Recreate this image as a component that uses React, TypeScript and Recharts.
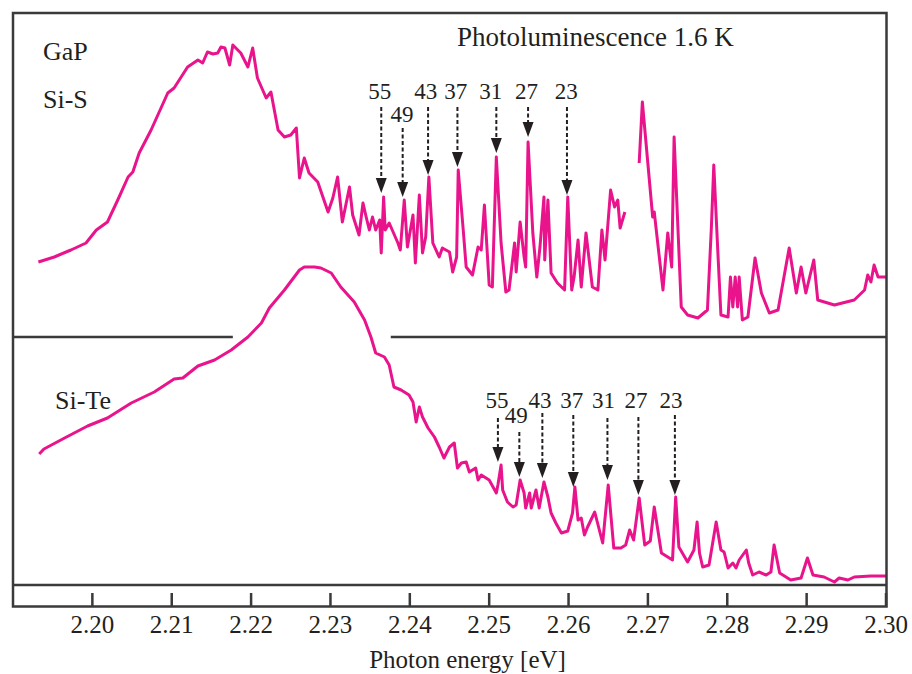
import { ComposedChart, Line, ReferenceLine, Scatter, XAxis, YAxis } from "recharts";

if (typeof document !== "undefined") document.body.style.margin = "0";

// photon energy [eV], PL intensity (arb. units, Si-S trace offset above Si-Te)
const siSSpectrum: [number, number | null][] = [
  [2.1932, 323], [2.1952, 328], [2.1973, 335], [2.1992, 342], [2.2005, 355], [2.2019, 363],
  [2.2032, 385], [2.2045, 408], [2.2051, 413], [2.2059, 432], [2.2074, 455], [2.2095, 492],
  [2.2103, 497], [2.212, 518], [2.2133, 525], [2.2139, 522], [2.2145, 533], [2.2152, 531],
  [2.2158, 532], [2.2162, 538], [2.2167, 537], [2.2173, 520], [2.2177, 540], [2.2187, 532],
  [2.2196, 518], [2.2202, 537], [2.2208, 507], [2.2219, 487], [2.2225, 493], [2.2234, 455],
  [2.2242, 448], [2.225, 450], [2.2257, 457], [2.2261, 407], [2.2267, 427], [2.2273, 412],
  [2.2284, 403], [2.2297, 373], [2.2303, 387], [2.2309, 408], [2.2315, 363], [2.2324, 398],
  [2.2328, 370], [2.2336, 350], [2.2341, 382], [2.2345, 368], [2.2349, 355], [2.2353, 368],
  [2.2357, 355], [2.2362, 365], [2.2364, 332], [2.2367, 388], [2.2369, 355], [2.2374, 362],
  [2.2385, 342], [2.2388, 335], [2.2393, 385], [2.2397, 338], [2.2404, 370], [2.2407, 322],
  [2.2412, 390], [2.2416, 332], [2.242, 348], [2.2424, 408], [2.2429, 342], [2.2437, 328],
  [2.2441, 337], [2.245, 333], [2.2454, 313], [2.2459, 328], [2.2461, 415], [2.2467, 358],
  [2.2471, 318], [2.2479, 310], [2.2486, 338], [2.249, 335], [2.2494, 380], [2.25, 300],
  [2.2504, 298], [2.2509, 428], [2.2515, 342], [2.2521, 293], [2.2525, 295], [2.2532, 342],
  [2.2534, 313], [2.2539, 363], [2.2544, 328], [2.2546, 318], [2.2549, 443], [2.2555, 352],
  [2.256, 308], [2.2564, 338], [2.2569, 388], [2.257, 325], [2.2574, 385], [2.2578, 312],
  [2.2586, 302], [2.2595, 295], [2.2599, 388], [2.2604, 295], [2.2607, 308], [2.2612, 345],
  [2.2616, 298], [2.2622, 352], [2.263, 298], [2.2637, 295], [2.2642, 355], [2.2646, 325],
  [2.2653, 395], [2.2658, 378], [2.2662, 385], [2.2665, 357], [2.2671, 373], [2.268, null],
  [2.2689, 422], [2.2693, 483], [2.2706, 368], [2.2708, 373], [2.2719, 295], [2.2725, 352],
  [2.273, 318], [2.2733, 448], [2.2742, 278], [2.275, 270], [2.2763, 267], [2.2775, 275],
  [2.278, 358], [2.2783, 420], [2.2788, 335], [2.2792, 270], [2.2801, 268], [2.2804, 308],
  [2.2807, 278], [2.281, 308], [2.2813, 278], [2.2815, 308], [2.2819, 265], [2.2826, 268],
  [2.2835, 327], [2.2843, 292], [2.2853, 272], [2.2864, 275], [2.2878, 337], [2.2887, 292],
  [2.2893, 318], [2.2899, 292], [2.2909, 325], [2.2914, 285], [2.2935, 280], [2.296, 285],
  [2.2973, 295], [2.2977, 310], [2.2981, 303], [2.2985, 320], [2.299, 308], [2.3, 308],
];

const siTeSpectrum: [number, number][] = [
  [2.1933, 131], [2.1939, 136], [2.1965, 147], [2.1994, 159], [2.2019, 167], [2.2049, 182],
  [2.2078, 193], [2.2103, 206], [2.2114, 207], [2.2133, 219], [2.2154, 225], [2.2175, 235],
  [2.2196, 248], [2.2213, 262], [2.2223, 277], [2.2242, 295], [2.2261, 315], [2.2267, 318],
  [2.228, 318], [2.2288, 317], [2.2301, 312], [2.2313, 298], [2.233, 283], [2.2343, 265],
  [2.2351, 248], [2.2357, 232], [2.2368, 228], [2.2374, 220], [2.238, 198], [2.2389, 195],
  [2.2399, 190], [2.2404, 183], [2.2408, 163], [2.2412, 178], [2.2416, 168], [2.2423, 157],
  [2.2431, 148], [2.2437, 138], [2.2443, 127], [2.245, 138], [2.2456, 142], [2.246, 117],
  [2.2465, 122], [2.2471, 123], [2.2475, 113], [2.2483, 117], [2.2486, 105], [2.249, 110],
  [2.25, 105], [2.2509, 92], [2.2511, 100], [2.2515, 120], [2.2517, 95], [2.2523, 83],
  [2.253, 78], [2.2534, 80], [2.2539, 105], [2.2544, 92], [2.2546, 77], [2.2551, 92],
  [2.2553, 77], [2.2559, 95], [2.2563, 77], [2.2569, 103], [2.2574, 88], [2.2578, 72],
  [2.2584, 62], [2.2591, 52], [2.2599, 54], [2.2605, 72], [2.2608, 98], [2.2612, 65],
  [2.2616, 67], [2.262, 50], [2.2624, 58], [2.2633, 73], [2.2643, 42], [2.265, 100],
  [2.2657, 37], [2.2666, 37], [2.2672, 40], [2.2677, 55], [2.2682, 45], [2.2689, 87],
  [2.2696, 40], [2.2703, 44], [2.2708, 78], [2.2717, 32], [2.2731, 25], [2.2735, 88],
  [2.2739, 38], [2.275, 23], [2.2758, 35], [2.2762, 63], [2.2765, 32], [2.2769, 18],
  [2.2777, 20], [2.2786, 63], [2.2792, 35], [2.2796, 33], [2.2801, 17], [2.2807, 22],
  [2.2811, 17], [2.2815, 25], [2.2824, 35], [2.2827, 22], [2.2832, 10], [2.284, 13],
  [2.2849, 10], [2.2855, 13], [2.2859, 40], [2.2866, 12], [2.288, 5], [2.2893, 7],
  [2.2901, 27], [2.2908, 10], [2.2922, 8], [2.2935, 3], [2.2941, 7], [2.2952, 5],
  [2.296, 8], [2.2981, 9], [2.3, 9],
];

const peakLabels = ["55", "49", "43", "37", "31", "27", "23"];

const siSArrowE = [2.2364, 2.2391, 2.2423, 2.246, 2.2509, 2.2549, 2.2598];
const siSArrowTip = [392, 388, 410, 418, 432, 448, 390];
const siSArrowTop = [478, 457, 478, 478, 478, 478, 478];
const siSLabelE = [2.2362, 2.239, 2.242, 2.2458, 2.2502, 2.2547, 2.2597];
const siSLabelV = [486, 463, 486, 486, 486, 486, 486];

const siTeArrowE = [2.2511, 2.2538, 2.2567, 2.2606, 2.2649, 2.2688, 2.2734];
const siTeArrowTip = [123, 108, 107, 98, 105, 90, 90];
const siTeArrowTop = [167, 153, 172, 170, 167, 168, 170];
const siTeLabelE = [2.251, 2.2534, 2.2564, 2.2604, 2.2644, 2.2685, 2.2729];
const siTeLabelV = [177, 162, 177, 177, 177, 177, 177];

const energyTicks = [2.2, 2.21, 2.22, 2.23, 2.24, 2.25, 2.26, 2.27, 2.28, 2.29, 2.3];

// panel divider, broken where the Si-Te band passes through
const dividerLevel = 248;
const dividerSpans: [number, number][] = [[2.19, 2.2177], [2.2376, 2.3]];

const PINK = "#e9148c";
const INK = "#231f20";
const FRAME = "#3a3a3a";
const SERIF = "'Liberation Serif', 'Times New Roman', serif";

const toPoints = (rows: [number, number | null][]) => rows.map(([e, v]) => ({ e, v }));
const arrowPoints = (es: number[], vs: number[]) => es.map((e, i) => ({ e, v: vs[i] }));
const labelPoints = (es: number[], vs: number[]) =>
  es.map((e, i) => ({ e, v: vs[i], label: peakLabels[i] }));

const ArrowHead = (p: any) => (
  <polygon
    points={`${p.cx - 5.5},${p.cy - 15} ${p.cx + 5.5},${p.cy - 15} ${p.cx},${p.cy}`}
    fill={INK}
  />
);

const PeakLabel = (p: any) => (
  <text x={p.cx} y={p.cy} textAnchor="middle" fontSize={23} fontFamily={SERIF} fill={INK}>
    {p.payload.label}
  </text>
);

const EnergyTick = ({ x, y, payload }: any) => (
  <g>
    <line x1={x} x2={x} y1={y + 22} y2={y + 8} stroke={FRAME} strokeWidth={2.5} />
    <text x={x} y={y + 48} textAnchor="middle" fontSize={25} fontFamily={SERIF} fill={INK}>
      {Number(payload.value).toFixed(2)}
    </text>
  </g>
);

export default function App() {
  const shafts = [
    ...siSArrowE.map((e, i) => [e, siSArrowTop[i], siSArrowTip[i]]),
    ...siTeArrowE.map((e, i) => [e, siTeArrowTop[i], siTeArrowTip[i]]),
  ];

  return (
    <div style={{ position: "relative", width: 912, height: 674, background: "#fff" }}>
      <ComposedChart
        width={912}
        height={674}
        margin={{ top: 12, right: 26, left: 13, bottom: 0 }}
      >
        <XAxis
          type="number"
          dataKey="e"
          domain={[2.19, 2.3]}
          ticks={energyTicks}
          interval={0}
          allowDataOverflow
          height={89}
          tickSize={0}
          tickMargin={0}
          tickLine={false}
          axisLine={{ stroke: FRAME, strokeWidth: 2.5 }}
          tick={<EnergyTick />}
          label={{
            value: "Photon energy [eV]",
            position: "insideBottom",
            offset: 6,
            dx: 18,
            fontSize: 25,
            fontFamily: SERIF,
            fill: INK,
          }}
        />
        <YAxis type="number" dataKey="v" domain={[0, 573]} hide allowDataOverflow />
        {dividerSpans.map(([a, b]) => (
          <ReferenceLine
            key={a}
            segment={[{ x: a, y: dividerLevel }, { x: b, y: dividerLevel }]}
            stroke={FRAME}
            strokeWidth={2.5}
          />
        ))}
        {shafts.map(([e, top, tip], i) => (
          <ReferenceLine
            key={"s" + i}
            segment={[{ x: e, y: top }, { x: e, y: tip + 10 }]}
            stroke={INK}
            strokeWidth={2}
            strokeDasharray="4 2.5"
          />
        ))}
        <Line
          data={toPoints(siTeSpectrum)}
          dataKey="v"
          type="linear"
          stroke={PINK}
          strokeWidth={3}
          strokeLinejoin="round"
          dot={false}
          isAnimationActive={false}
        />
        <Line
          data={toPoints(siSSpectrum)}
          dataKey="v"
          type="linear"
          stroke={PINK}
          strokeWidth={3}
          strokeLinejoin="round"
          dot={false}
          connectNulls={false}
          isAnimationActive={false}
        />
        <Scatter data={arrowPoints(siSArrowE, siSArrowTip)} shape={ArrowHead} isAnimationActive={false} />
        <Scatter data={arrowPoints(siTeArrowE, siTeArrowTip)} shape={ArrowHead} isAnimationActive={false} />
        <Scatter data={labelPoints(siSLabelE, siSLabelV)} shape={PeakLabel} isAnimationActive={false} />
        <Scatter data={labelPoints(siTeLabelE, siTeLabelV)} shape={PeakLabel} isAnimationActive={false} />
      </ComposedChart>
      <svg
        width={912}
        height={674}
        style={{ position: "absolute", left: 0, top: 0, pointerEvents: "none" }}
      >
        <rect x={13} y={13} width={873.5} height={593.5} fill="none" stroke={FRAME} strokeWidth={2.5} />
        <g fontFamily={SERIF} fill={INK}>
          <text x={43} y={60} fontSize={26}>GaP</text>
          <text x={43} y={108} fontSize={26}>Si-S</text>
          <text x={55} y={409} fontSize={26}>Si-Te</text>
          <text x={457} y={46} fontSize={27}>Photoluminescence 1.6 K</text>
        </g>
      </svg>
    </div>
  );
}
